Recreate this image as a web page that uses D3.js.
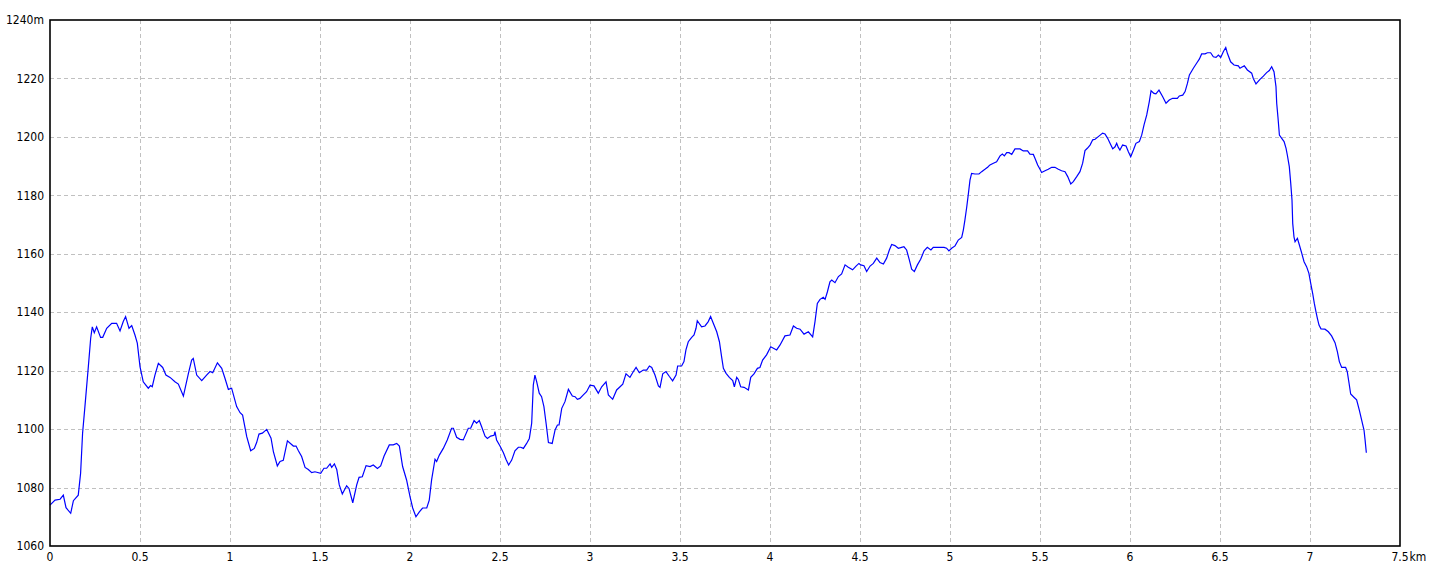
<!DOCTYPE html>
<html>
<head>
<meta charset="utf-8">
<script src="https://cdn.jsdelivr.net/npm/d3@7"></script>
<style>
  html, body { margin: 0; padding: 0; background: #fff; }
  svg { display: block; }
  .lbl { font-family: "Liberation Sans Narrow", "DejaVu Sans Condensed", "Noto Sans CJK JP", sans-serif; font-size: 12px; fill: #000; }
</style>
</head>
<body>
<svg id="chart" width="1440" height="576"></svg>
<script>
// distance along track (km)
const distKm = [
0,.028,.056,.074,.089,.115,.13,.157,.17,.181,.194,.213,.226,.235,.246,.259,.281,.293,.315,.343,.37,.389,.407,.42,.439,.454,.472,.485,.5,.518,.546,.559,.568,.583,.602,.626,.644,.667,.694,.713,.741,.769,.787,.796,.815,.843,.87,.889,.904,.93,.954,.972,.991,1.009,1.037,1.056,1.07,1.093,1.115,1.135,1.148,1.161,1.18,1.204,1.228,1.241,1.263,1.278,1.296,
1.319,1.352,1.367,1.38,1.398,1.417,1.435,1.454,1.472,1.504,1.522,1.537,1.556,1.565,1.58,1.593,1.607,1.624,1.648,1.661,1.682,1.704,1.717,1.735,1.756,1.778,1.796,1.819,1.837,1.856,1.885,1.907,1.926,1.941,1.959,1.981,2.0,2.015,2.033,2.052,2.07,2.093,2.107,2.12,2.139,2.148,2.163,2.185,2.207,2.231,2.241,2.259,2.278,2.296,2.324,2.337,2.356,2.37,2.385,2.398,2.417,2.43,2.448,2.467,2.472,2.481,2.5,2.519,2.533,2.548,2.565,2.583,2.602,2.615,2.63,2.648,2.663,2.676,2.685,2.694,2.704,2.718,2.731,2.744,2.756,2.769,2.79,2.806,2.819,2.828,2.843,2.861,2.88,2.902,2.917,2.93,2.944,2.963,2.981,3.0,3.022,3.046,3.065,3.089,3.102,3.126,3.148,3.167,3.182,3.2,3.222,3.241,3.256,3.274,3.296,3.315,3.33,3.343,3.361,3.38,3.389,3.404,3.422,3.441,3.459,3.478,3.487,3.509,3.522,3.533,3.546,3.565,3.578,3.589,3.596,3.62,3.639,3.657,3.67,3.685,3.704,3.719,3.731,3.741,3.756,3.774,3.793,3.802,3.815,3.824,3.837,3.856,3.88,3.893,3.911,3.93,3.944,3.959,3.981,4.004,4.019,4.037,4.056,4.083,4.111,4.13,4.148,4.167,4.189,4.213,4.237,4.25,4.263,4.278,4.296,4.306,4.319,4.333,4.343,4.361,4.38,4.398,4.417,4.435,4.459,4.478,4.494,4.504,4.522,4.537,4.556,4.574,4.593,4.611,4.63,4.648,4.663,4.676,4.694,4.713,4.731,4.744,4.759,4.774,4.787,4.802,4.819,4.837,4.856,4.874,4.894,4.907,4.935,4.967,4.981,4.994,5.009,5.028,5.046,5.065,5.074,5.083,5.093,5.102,5.111,5.12,5.139,5.161,5.176,5.194,5.209,5.222,5.241,5.259,5.278,5.291,5.302,5.315,5.328,5.343,5.361,5.389,5.407,5.431,5.444,5.463,5.472,5.487,5.5,5.509,5.528,5.546,5.565,5.583,5.602,5.62,5.639,5.654,5.671,5.685,5.704,5.722,5.737,5.75,5.763,5.778,5.793,5.806,5.824,5.848,5.861,5.876,5.889,5.904,5.917,5.926,5.935,5.944,5.959,5.978,5.991,6.004,6.019,6.033,6.052,6.065,6.078,6.093,6.107,6.117,6.133,6.144,6.161,6.181,6.2,6.218,6.237,6.263,6.274,6.293,6.306,6.319,6.33,6.352,6.37,6.385,6.398,6.417,6.43,6.448,6.463,6.478,6.491,6.504,6.519,6.532,6.541,6.559,6.578,6.602,6.611,6.62,6.635,6.652,6.676,6.685,6.7,6.722,6.741,6.759,6.774,6.787,6.8,6.811,6.815,6.822,6.83,6.843,6.856,6.867,6.874,6.885,6.893,6.9,6.904,6.911,6.917,6.93,6.941,6.954,6.967,6.981,6.994,7.004,7.015,7.024,7.033,7.041,7.05,7.061,7.083,7.102,7.12,7.139,7.152,7.163,7.176,7.198,7.207,7.217,7.226,7.244,7.259,7.274,7.287,7.3,7.306,7.313
];
// elevation (m)
const elevM = [
1074,1075.7,1076,1077.4,1073.1,1071.2,1075.5,1077.4,1084.9,1098.6,1107.7,1121.4,1131.1,1135,1133,1135,1131.4,1131.4,1134.5,1136.2,1136.2,1133.6,1136.8,1138.5,1134.5,1135.4,1132.2,1129.4,1121.4,1116.2,1114,1114.9,1114.5,1118.5,1122.5,1121.1,1118.5,1117.7,1116.2,1115.4,1111.3,1119.1,1123.6,1124.2,1118.5,1116.6,1118.5,1119.7,1119.3,1122.7,1120.8,1117.4,1113.6,1114,1107.7,1105.6,1104.8,1097.4,1092.6,1093.4,1095.4,1098.3,1098.6,1099.9,1096.9,1092.3,1087.4,1088.9,1089.3,
1096,1094.2,1094.2,1092.6,1090.6,1086.9,1086.2,1085.1,1085.4,1084.9,1086.6,1086.6,1088.1,1086.9,1088.1,1086.2,1080.9,1077.8,1080.6,1079.7,1074.8,1080.9,1083.5,1083.7,1087.5,1087.2,1087.7,1086.5,1087.4,1090.8,1094.6,1094.6,1095.1,1094.2,1087.2,1082.6,1076.9,1073.0,1070.0,1071.7,1073.0,1073.0,1075.7,1082.6,1089.7,1088.9,1091.1,1093.4,1096.3,1100.3,1100.3,1097.2,1096.5,1096.3,1100.3,1100.3,1102.9,1102.0,1102.9,1100.8,1097.6,1096.8,1097.6,1097.9,1099.1,1096.3,1094.2,1091.9,1089.7,1087.7,1089.4,1092.6,1093.8,1093.8,1093.4,1095.1,1096.8,1102.0,1115.1,1118.5,1116.2,1112.3,1111.1,1107.7,1102,1095.4,1095.1,1099.7,1101.4,1101.4,1107.1,1109.4,1113.6,1111.3,1111.1,1110.2,1110.5,1111.7,1112.8,1115.0,1114.8,1112.3,1114.5,1116.2,1111.7,1110.2,1113.4,1114.5,1115.4,1118.9,1117.7,1119.7,1121.1,1119.3,1120.2,1120.2,1121.6,1121.1,1118.5,1114.8,1114.3,1118.9,1119.7,1118.0,1116.5,1118.5,1121.6,1121.6,1123.1,1127.1,1129.9,1131.4,1132.2,1134.5,1137.1,1135.0,1135.3,1136.8,1138.5,1136.2,1133.3,1129.9,1124.8,1120.8,1119.1,1117.7,1116.6,1114.5,1117.7,1117.0,1114.5,1114.3,1113.4,1117.7,1118.9,1120.8,1121.1,1123.6,1125.4,1128.2,1127.7,1127.1,1128.8,1131.9,1132.2,1135.3,1134.5,1134.2,1132.5,1133.3,1131.6,1136.8,1143.0,1144.4,1145.1,1144.4,1147.0,1150.4,1151.0,1150.1,1152.2,1153.1,1156.2,1155.4,1154.5,1155.8,1156.7,1156.2,1155.9,1153.9,1155.8,1156.7,1158.5,1157.0,1156.5,1158.5,1161.3,1163.2,1162.8,1161.9,1162.2,1162.4,1161.3,1157.9,1154.7,1153.9,1156.2,1158.1,1161.0,1162.2,1161.3,1162.2,1162.2,1162.2,1161.9,1161.0,1161.9,1162.7,1164.7,1165.6,1168.1,1171.6,1176.0,1180.5,1185.2,1187.5,1187.3,1187.3,1188.1,1188.9,1189.6,1190.4,1191.0,1191.5,1193.5,1194.1,1193.5,1194.6,1194.6,1194.0,1195.9,1195.9,1195.2,1195.2,1194.1,1194.0,1192.7,1190.4,1188.9,1187.8,1188.4,1188.9,1189.6,1189.6,1188.9,1188.4,1188.1,1186.4,1183.9,1184.7,1186.4,1188.1,1191.0,1195.3,1196.1,1197.2,1199.0,1199.2,1200.1,1201.3,1201.0,1199.5,1197.8,1195.9,1196.6,1197.8,1196.4,1195.5,1197.2,1196.9,1194.9,1193.2,1195.5,1197.8,1198.4,1200.6,1204.1,1207.5,1212.0,1215.8,1214.9,1214.7,1216.0,1213.8,1211.5,1212.6,1213.2,1213.2,1214.0,1214.3,1215.5,1218.3,1221.2,1223.5,1225.2,1226.6,1228.4,1228.4,1228.8,1228.8,1227.4,1227.2,1228.0,1227.2,1229.2,1230.6,1228.6,1225.7,1224.6,1224.3,1223.5,1223.8,1224.3,1222.9,1221.8,1220.0,1218.1,1219.7,1220.8,1222.0,1222.7,1224.0,1222.3,1217.2,1211.5,1206.7,1200.6,1199.5,1198.4,1196.1,1193.8,1189.8,1184.1,1178.4,1170.4,1165.8,1164.1,1165.3,1163.0,1160.2,1157.3,1155.6,1153.3,1149.9,1146.4,1143.0,1140.2,1137.9,1135.6,1134.3,1134.2,1133.3,1131.9,1129.6,1126.5,1123.1,1121.1,1121.1,1119.7,1115.7,1112.0,1110.9,1110.0,1106.5,1103.1,1099.7,1096.3,1091.9
];
const xTicks = [0, 0.5, 1, 1.5, 2, 2.5, 3, 3.5, 4, 4.5, 5, 5.5, 6, 6.5, 7, 7.5];
const xTickLabels = ["0","0.5","1","1.5","2","2.5","3","3.5","4","4.5","5","5.5","6","6.5","7","7.5"];
const yTicks = [1060, 1080, 1100, 1120, 1140, 1160, 1180, 1200, 1220, 1240];
const yTickLabels = ["1060","1080","1100","1120","1140","1160","1180","1200","1220","1240m"];
const xUnit = "km";

(function () {
const mLeft = 50, mRight = 1400, mTop = 20, mBottom = 546;
const svg = d3.select("#chart");
const x = d3.scaleLinear().domain([0, 7.5]).range([mLeft, mRight]);
const y = d3.scaleLinear().domain([1060, 1240]).range([mBottom, mTop]);

// grid
const grid = svg.append("g").attr("stroke", "#c0c0c0").attr("stroke-width", 1)
  .attr("stroke-dasharray", "4,3").attr("shape-rendering", "crispEdges");
xTicks.slice(1, -1).forEach(t => {
  grid.append("line").attr("x1", Math.round(x(t)) + 0.5).attr("x2", Math.round(x(t)) + 0.5)
    .attr("y1", mTop).attr("y2", mBottom);
});
yTicks.slice(1, -1).forEach(t => {
  grid.append("line").attr("y1", Math.round(y(t)) + 0.5).attr("y2", Math.round(y(t)) + 0.5)
    .attr("x1", mLeft).attr("x2", mRight);
});

// line
const pts = distKm.map((d, i) => [d, elevM[i]]);
svg.append("path").datum(pts)
  .attr("fill", "none").attr("stroke", "#0000ff").attr("stroke-width", 1.2)
  .attr("d", d3.line().x(d => x(d[0])).y(d => y(d[1])));

// frame
svg.append("rect").attr("x", mLeft).attr("y", mTop).attr("width", mRight - mLeft).attr("height", mBottom - mTop)
  .attr("fill", "none").attr("stroke", "#000").attr("stroke-width", 1.6);

// y labels
svg.append("g").selectAll("text").data(yTicks).join("text")
  .attr("class", "lbl").attr("x", 44).attr("y", d => y(d)).attr("dy", "0.35em")
  .attr("text-anchor", "end").text((d, i) => yTickLabels[i]);

// x labels
const xl = svg.append("g");
xTicks.forEach((t, i) => {
  const tx = xl.append("text").attr("class", "lbl").attr("x", x(t)).attr("y", 557).attr("dy", "0.35em")
    .attr("text-anchor", "middle").text(xTickLabels[i]);
  if (i === xTicks.length - 1) {
    const w = tx.node().getComputedTextLength();
    xl.append("text").attr("class", "lbl").attr("x", x(t) + w / 2 + 1).attr("y", 557).attr("dy", "0.35em")
      .attr("text-anchor", "start").text(xUnit);
  }
});
})();
</script>
</body>
</html>
